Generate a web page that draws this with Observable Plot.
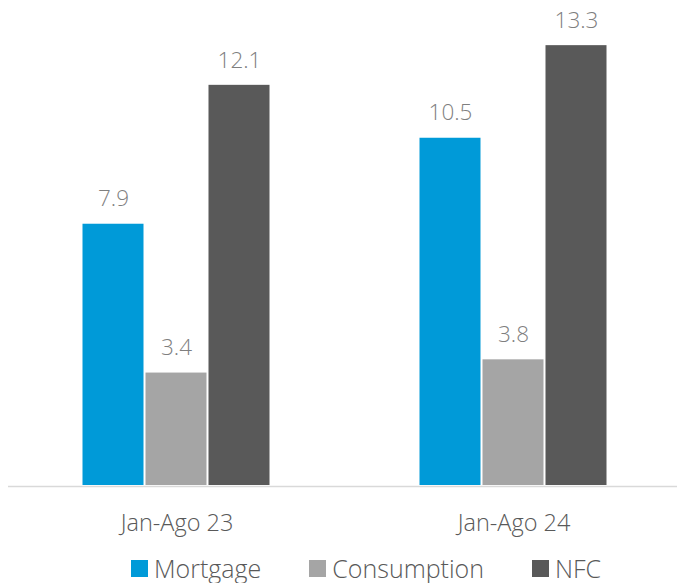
<!DOCTYPE html>
<html>
<head>
<meta charset="utf-8">
<script src="https://cdn.jsdelivr.net/npm/d3@7"></script>
<script src="https://cdn.jsdelivr.net/npm/@observablehq/plot@0.6"></script>
<style>
  html, body { margin: 0; background: #fff; overflow: hidden; font-family: "Segoe UI", "Open Sans", sans-serif; font-weight: 300; }
  #chart { width: 677px; overflow: hidden; }
  #legend { display: flex; align-items: center; margin-left: 131px; margin-top: 8px; gap: 48px; font-size: 25px; color: #595959; line-height: 30px; }
  #legend .item { display: flex; align-items: center; gap: 6px; }
  #legend .sw { width: 17px; height: 17px; display: inline-block; }
</style>
</head>
<body>
<div id="chart"></div>
<script>
const periods = ["Jan-Ago 23", "Jan-Ago 24"];
const series = ["Mortgage", "Consumption", "NFC"];
const mortgage = [7.9, 10.5];
const consumption = [3.4, 3.8];
const nfc = [12.1, 13.3];
const colors = ["#009ad8", "#a5a5a5", "#595959"];

const values = [mortgage, consumption, nfc];
const data = [];
periods.forEach((p, i) => series.forEach((s, j) => data.push({period: p, series: s, value: values[j][i]})));

const chart = Plot.plot({
  width: 682,
  height: 545,
  marginLeft: 7.5,
  marginRight: 0,
  marginTop: 22,
  marginBottom: 60,
  style: {fontFamily: '"Segoe UI", "Open Sans", sans-serif', fontWeight: 300, background: "#fff"},
  fx: {domain: periods, padding: 0, label: null, axis: "bottom", tickSize: 0, tickPadding: 29, fontSize: 23.5},
  x: {domain: series, axis: null, paddingInner: 0.03, paddingOuter: 1.15},
  y: {domain: [0, 14], axis: null},
  color: {domain: series, range: colors},
  marks: [
    Plot.ruleY([0], {stroke: "#d9d9d9", strokeWidth: 1.5, dy: 1}),
    Plot.barY(data, {fx: "period", x: "series", y: "value", fill: "series"}),
    Plot.text(data, {fx: "period", x: "series", y: "value", text: d => d.value.toFixed(1), dy: -25, fontSize: 22.5, fill: "#7f7f7f"})
  ]
});
chart.querySelectorAll('[aria-label="fx-axis tick label"] text').forEach(t => { t.setAttribute("fill", "#595959"); t.style.fontSize = "23.5px"; });
chart.style.maxWidth = "none";
document.getElementById("chart").appendChild(chart);

const legend = document.createElement("div");
legend.id = "legend";
series.forEach((s, j) => {
  const item = document.createElement("div");
  item.className = "item";
  const sw = document.createElement("span");
  sw.className = "sw";
  sw.style.background = colors[j];
  const label = document.createElement("span");
  label.textContent = s;
  item.appendChild(sw);
  item.appendChild(label);
  legend.appendChild(item);
});
document.body.appendChild(legend);
</script>
</body>
</html>
